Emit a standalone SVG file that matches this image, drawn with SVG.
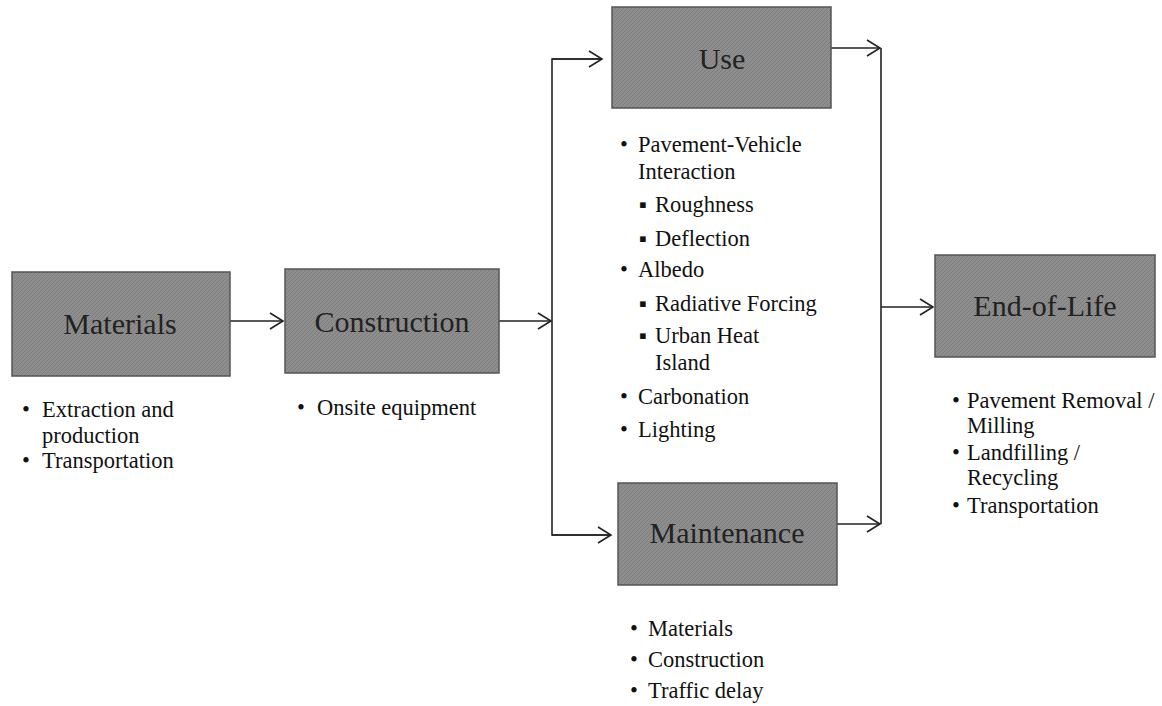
<svg xmlns="http://www.w3.org/2000/svg" width="1162" height="706" viewBox="0 0 1162 706">
<style>
.box{fill:url(#tex);stroke:#555;stroke-width:1.5}
.lbl{font-family:"Liberation Serif","Times New Roman",serif;font-size:30px;fill:#222;text-anchor:middle}
.txt{font-family:"Liberation Serif","Times New Roman",serif;font-size:22.5px;fill:#111}
.conn{fill:none;stroke:#222;stroke-width:1.6}
</style>
<defs>
<pattern id="tex" width="4" height="4" patternUnits="userSpaceOnUse">
<rect width="4" height="4" fill="#8e8e8e"/>
<path d="M0 4 L4 0" stroke="#7d7d7d" stroke-width="1"/>
</pattern>
<marker id="arr" markerUnits="userSpaceOnUse" markerWidth="16" markerHeight="18" refX="14" refY="9" orient="auto">
<path d="M1 1 L14 9 L1 17" fill="none" stroke="#222" stroke-width="1.6"/>
</marker>
</defs>
<g id="connectors">
<line class="conn" x1="230" y1="321" x2="283" y2="321" marker-end="url(#arr)"/>
<line class="conn" x1="499" y1="321" x2="551" y2="321" marker-end="url(#arr)"/>
<polyline class="conn" points="602,59 552,59 552,535 611,535"/>
<line class="conn" x1="552" y1="59" x2="602" y2="59" marker-end="url(#arr)"/>
<line class="conn" x1="552" y1="535" x2="611" y2="535" marker-end="url(#arr)"/>
<line class="conn" x1="831" y1="48" x2="880" y2="48" marker-end="url(#arr)"/>
<line class="conn" x1="837" y1="524" x2="880" y2="524" marker-end="url(#arr)"/>
<line class="conn" x1="881" y1="48" x2="881" y2="524"/>
<line class="conn" x1="881" y1="307" x2="933" y2="307" marker-end="url(#arr)"/>
</g>
<g id="materials">
<rect class="box" x="12" y="272" width="218" height="104"/>
<text class="lbl" x="120" y="334">Materials</text>
<text class="txt"><tspan x="22" y="417">•</tspan><tspan x="42" y="417">Extraction and</tspan><tspan x="42" y="443">production</tspan><tspan x="22" y="468">•</tspan><tspan x="42" y="468">Transportation</tspan></text>
</g>
<g id="construction">
<rect class="box" x="285" y="269" width="214" height="104"/>
<text class="lbl" x="392" y="332">Construction</text>
<text class="txt"><tspan x="297" y="415">•</tspan><tspan x="317" y="415">Onsite equipment</tspan></text>
</g>
<g id="use">
<rect class="box" x="612" y="7" width="219" height="101"/>
<text class="lbl" x="722" y="69">Use</text>
<text class="txt">
<tspan x="620" y="152">•</tspan><tspan x="638" y="152">Pavement-Vehicle</tspan>
<tspan x="638" y="179">Interaction</tspan>
<tspan x="639" y="212">▪</tspan><tspan x="655" y="212">Roughness</tspan>
<tspan x="639" y="246">▪</tspan><tspan x="655" y="246">Deflection</tspan>
<tspan x="620" y="277">•</tspan><tspan x="638" y="277">Albedo</tspan>
<tspan x="639" y="311">▪</tspan><tspan x="655" y="311">Radiative Forcing</tspan>
<tspan x="639" y="343">▪</tspan><tspan x="655" y="343">Urban Heat</tspan>
<tspan x="655" y="370">Island</tspan>
<tspan x="620" y="404">•</tspan><tspan x="638" y="404">Carbonation</tspan>
<tspan x="620" y="437">•</tspan><tspan x="638" y="437">Lighting</tspan>
</text>
</g>
<g id="maintenance">
<rect class="box" x="618" y="483" width="219" height="102"/>
<text class="lbl" x="727" y="543">Maintenance</text>
<text class="txt">
<tspan x="630" y="636">•</tspan><tspan x="648" y="636">Materials</tspan>
<tspan x="630" y="667">•</tspan><tspan x="648" y="667">Construction</tspan>
<tspan x="630" y="698">•</tspan><tspan x="648" y="698">Traffic delay</tspan>
</text>
</g>
<g id="end-of-life">
<rect class="box" x="935" y="255" width="220" height="102"/>
<text class="lbl" x="1045" y="316">End-of-Life</text>
<text class="txt">
<tspan x="952" y="408">•</tspan><tspan x="967" y="408">Pavement Removal /</tspan>
<tspan x="967" y="433">Milling</tspan>
<tspan x="952" y="460">•</tspan><tspan x="967" y="460">Landfilling /</tspan>
<tspan x="967" y="485">Recycling</tspan>
<tspan x="952" y="513">•</tspan><tspan x="967" y="513">Transportation</tspan>
</text>
</g>
</svg>
